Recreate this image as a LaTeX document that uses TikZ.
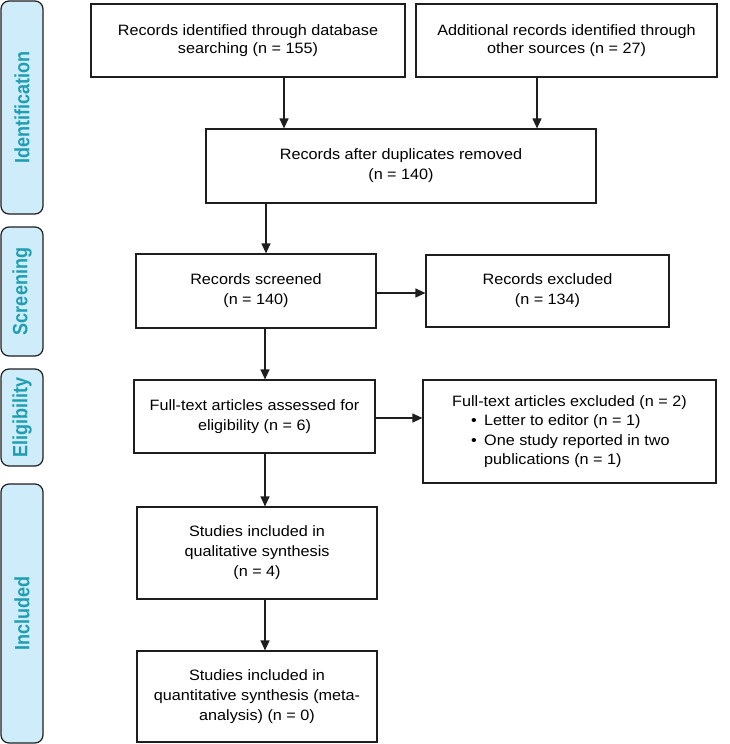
\documentclass[tikz,border=0pt]{standalone}
\usepackage{fontspec}
\setmainfont{Liberation Sans}[FakeStretch=1.08]
\newfontfamily\sidefont{Liberation Sans}
\usetikzlibrary{arrows.meta}
\definecolor{sidefill}{RGB}{206,236,250}
\definecolor{sidetext}{RGB}{30,158,176}
\definecolor{edge}{RGB}{30,30,30}
\newcommand{\sidelabel}[1]{\scalebox{1}[1.15]{#1}}
\tikzset{
  box/.style={draw=edge, line width=1.2pt, fill=white, align=center, inner sep=2pt,
    font=\fontsize{15}{20}\selectfont},
  tightbox/.style={box, font=\fontsize{15}{17.5}\selectfont},
  sidebar/.style={draw=edge, line width=1.2pt, fill=sidefill, rounded corners=8pt,
    rotate=90, minimum height=42pt, inner sep=0pt,
    text=sidetext, font=\sidefont\bfseries\fontsize{18}{20}\selectfont},
  arr/.style={draw=edge, line width=1.2pt, -{Triangle[length=10pt,width=9pt]}}
}
\begin{document}
\begin{tikzpicture}[x=1pt,y=-1pt]
\useasboundingbox (0,0) rectangle (730,744);
% side bars
\node[sidebar, minimum width=213pt] (sId) at (22,107.5) {\sidelabel{Identification}};
\node[sidebar, minimum width=129pt] (sSc) at (22,291.5) {\sidelabel{Screening}};
\node[sidebar, minimum width=97pt]  (sEl) at (22,417.5) {\sidelabel{Eligibility}};
\node[sidebar, minimum width=259pt] (sIn) at (22,613.5) {\sidelabel{Included}};
% boxes
\node[tightbox, minimum width=314pt, minimum height=73pt] (b1) at (248,40.5)
  {Records identified through database\\searching (n = 155)};
\node[tightbox, minimum width=301pt, minimum height=73pt] (b2) at (566.5,40.5)
  {Additional records identified through\\other sources (n = 27)};
\node[box, minimum width=390pt, minimum height=74pt] (b3) at (401,166)
  {Records after duplicates removed\\(n = 140)};
\node[box, minimum width=240pt, minimum height=74pt] (b4) at (256,291)
  {Records screened\\(n = 140)};
\node[box, minimum width=243pt, minimum height=72pt] (b5) at (547.5,291)
  {Records excluded\\(n = 134)};
\node[box, minimum width=241pt, minimum height=73pt] (b6) at (254.5,416.5)
  {Full-text articles assessed for\\eligibility (n = 6)};
\node[box, minimum width=293pt, minimum height=103pt, font=\fontsize{15}{19.5}\selectfont] (b7) at (569.5,431.5)
  {\begin{tabular}{@{}l@{}}
   Full-text articles excluded (n = 2)\\
   \hspace*{19pt}\makebox[13pt][l]{\textbullet}Letter to editor (n = 1)\\
   \hspace*{19pt}\makebox[13pt][l]{\textbullet}One study reported in two\\
   \hspace*{19pt}\makebox[13pt][l]{}publications (n = 1)
   \end{tabular}};
\node[box, minimum width=240pt, minimum height=92pt] (b8) at (257,553)
  {Studies included in\\qualitative synthesis\\(n = 4)};
\node[box, minimum width=240pt, minimum height=91pt] (b9) at (257,696.5)
  {Studies included in\\quantitative synthesis (meta-\\analysis) (n = 0)};
% connectors
\draw[arr] ([xshift=36pt]b1.south) -- ([xshift=36pt]b1.south |- b3.north);
\draw[arr] ([xshift=-29.5pt]b2.south) -- ([xshift=-29.5pt]b2.south |- b3.north);
\draw[arr] ([xshift=-135pt]b3.south) -- ([xshift=-135pt]b3.south |- b4.north);
\draw[arr] ([yshift=-2pt]b4.east) -- ([yshift=-2pt]b4.east -| b5.west);
\draw[arr] ([xshift=9pt]b4.south) -- ([xshift=9pt]b4.south |- b6.north);
\draw[arr] ([yshift=-1.5pt]b6.east) -- ([yshift=-1.5pt]b6.east -| b7.west);
\draw[arr] ([xshift=10.5pt]b6.south) -- ([xshift=10.5pt]b6.south |- b8.north);
\draw[arr] ([xshift=8pt]b8.south) -- ([xshift=8pt]b8.south |- b9.north);
\end{tikzpicture}
\end{document}
